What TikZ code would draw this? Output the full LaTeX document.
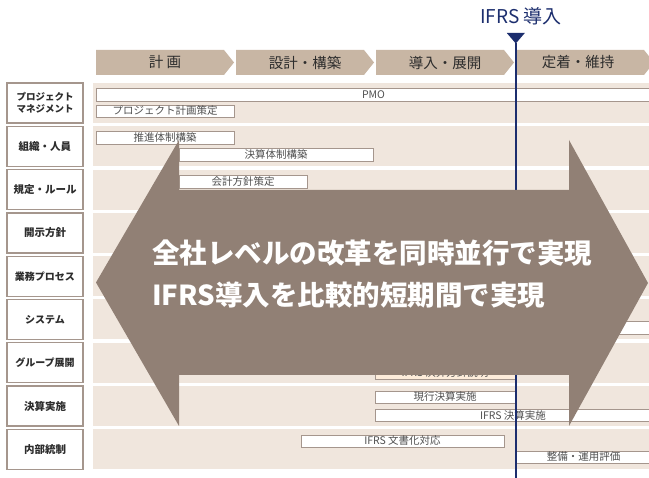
\documentclass[tikz,border=0pt]{standalone}
\usepackage{fontspec}
\setmainfont{Noto Sans CJK JP}
\definecolor{band}{RGB}{240,230,221}
\definecolor{chev}{RGB}{200,182,164}
\definecolor{arrowc}{RGB}{145,128,117}
\definecolor{navy}{RGB}{28,46,110}
\definecolor{boxline}{RGB}{165,150,141}
\definecolor{txt}{RGB}{45,45,45}
\definecolor{bartxt}{RGB}{80,80,80}
\definecolor{peach}{RGB}{253,236,218}
\tikzset{
 labelbox/.style={draw=boxline, line width=1.3pt, fill=white, minimum width=76, minimum height=40, inner sep=0, align=center, font=\fontsize{10}{12}\selectfont\bfseries, text=txt},
 barbox/.style={draw=boxline, line width=0.9pt, fill=white, inner sep=0, outer sep=0, anchor=north west, font=\fontsize{10.5}{11}\selectfont, text=bartxt},
 chevshape/.style={fill=chev},
 chevtext/.style={font=\fontsize{14.5}{16}\selectfont, text=txt},
 bigarrow/.style={fill=arrowc},
 arrowtext/.style={font=\fontsize{27.5}{30}\selectfont\bfseries, text=white, anchor=west, inner sep=0},
}
\newcommand\taskbar[6]{\node[barbox, minimum width={#4-#2}, minimum height={#5-#3}] (#1) at (#2,#3) {#6};}
\newcommand\chevron[1]{%
  \fill[chevshape] (#1,50) -- ({#1+128},50) -- ({#1+138},62.5) -- ({#1+128},75) -- (#1,75) -- cycle;}
\begin{document}
\begin{tikzpicture}[x=1pt,y=-1pt]
\useasboundingbox (0,0) rectangle (649,478);
\clip (0,0) rectangle (649,478);
\fill[white] (0,0) rectangle (649,478);
% header
\node[font=\fontsize{19}{22}\selectfont, text=navy] (ifrs) at (521,16) {IFRS 導入};
% chevrons
\chevron{96}
\chevron{236}
\chevron{376}
\chevron{516}
\node[chevtext] (p1) at (165,62.5) {計 画};
\node[chevtext] (p2) at (305,62.5) {設計・構築};
\node[chevtext] (p3) at (445,62.5) {導入・展開};
\node[chevtext] (p4) at (578,62.5) {定着・維持};
% bands and labels
\foreach \t/\n/\lab/\fs in {83/r1/{プロジェクト\\マネジメント}/9.5,126.3/r2/{組織・人員}/10.5,169.6/r3/{規定・ルール}/10.5,212.9/r4/{開示方針}/10.5,256.2/r5/{業務プロセス}/10,299.5/r6/{システム}/10,342.8/r7/{グループ展開}/10,386.1/r8/{決算実施}/10.5,429.4/r9/{内部統制}/10.5}{
  \fill[band] (93,\t) rectangle (651,\t+40);
  \node[labelbox, font=\fontsize{\fs}{12}\selectfont\bfseries] (\n) at (45,\t+20) {\lab};
}
% task bars
\taskbar{pmo}{96}{88}{651}{101}{PMO}
\taskbar{plan}{96}{105}{234}{117}{プロジェクト計画策定}
\taskbar{suishin}{96}{131}{234}{144}{推進体制構築}
\taskbar{kessan}{179}{148}{373}{161}{決算体制構築}
\taskbar{kaikei}{179}{175}{307}{188}{会計方針策定}
\taskbar{sys}{500}{321}{651}{334}{}
\node[barbox, fill=peach, minimum width=140, minimum height=13] (group) at (375,366) {IFRS 決算方針説明};
\taskbar{genko}{375}{391}{515}{403}{現行決算実施}
\taskbar{ifrsk}{375}{409}{651}{421}{IFRS 決算実施}
\taskbar{bunsho}{301}{435}{504}{447}{IFRS 文書化対応}
\taskbar{seibi}{516}{451}{651}{463}{整備・運用評価}
% IFRS milestone line
\coordinate (tri) at (515.8,43.5);
\coordinate (lineend) at (515.8,478);
\draw[navy, line width=2pt] (tri) -- (lineend);
\fill[navy] (506.8,33) -- (524.8,33) -- (tri) -- cycle;
% big double arrow
\fill[bigarrow] (96,282.5) -- (179,140) -- (179,190) -- (569,190) -- (569,140) -- (648,283) -- (569,426) -- (569,375) -- (179,375) -- (179,426) -- cycle;
\node[arrowtext] (m1) at (152,253) {全社レベルの改革を同時並行で実現};
\node[arrowtext] (m2) at (152,295) {IFRS導入を比較的短期間で実現};
\end{tikzpicture}
\end{document}
